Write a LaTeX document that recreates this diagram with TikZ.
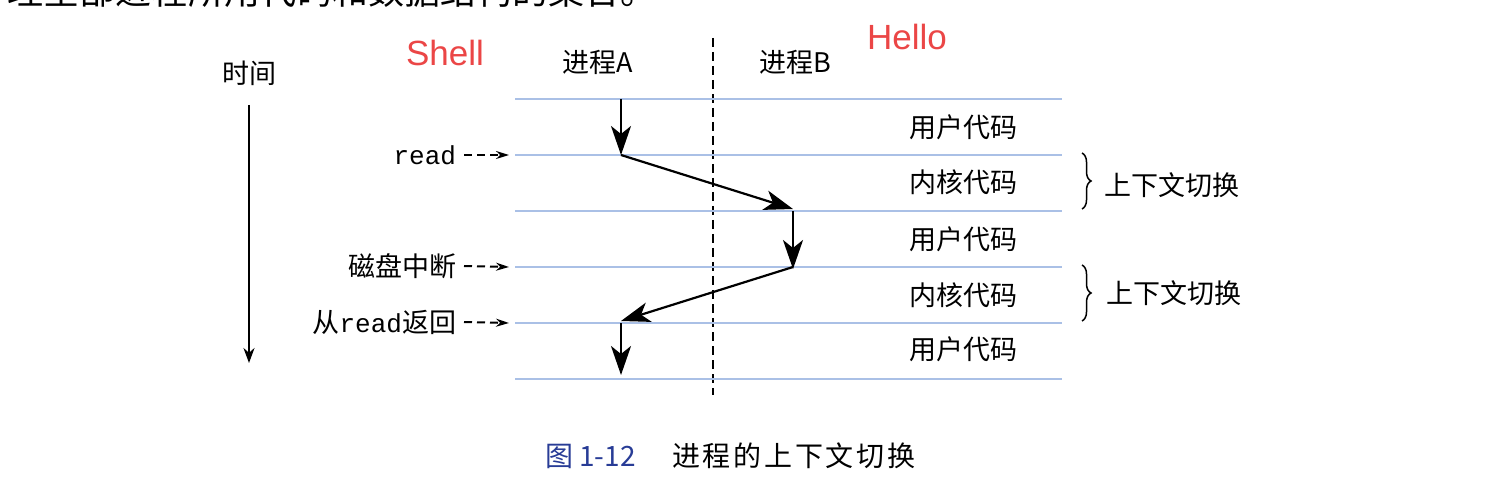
\documentclass[tikz,border=0pt]{standalone}
\usepackage{fontspec}
\usetikzlibrary{arrows.meta, decorations.pathreplacing}
\newfontfamily\cjk{Noto Sans CJK SC}
\newfontfamily\cjkwide[LetterSpace=10]{Noto Sans CJK SC}
\newfontfamily\mono{Liberation Mono}
\newfontfamily\arial{Liberation Sans}
\definecolor{rowline}{RGB}{170,192,230}
\definecolor{redlabel}{RGB}{235,70,70}
\definecolor{figblue}{RGB}{40,60,150}
\newcommand{\unitpx}{1pt}

\begin{document}
\begin{tikzpicture}[x=\unitpx, y=-\unitpx]
\useasboundingbox (0,0) rectangle (1504,486);
\tikzstyle{every node}=[inner sep=0pt, outer sep=0pt]
\tikzstyle{cjktext}=[font=\cjk\fontsize{27}{27}\selectfont]
\tikzstyle{rowsep}=[draw=rowline, line width=1.1pt]
\tikzstyle{switch}=[-{Stealth[length=29pt, width=20pt, inset=8pt]}, line width=2.2pt]
\tikzstyle{event}=[-{Stealth[length=13pt, width=8pt]}, line width=2pt, dash pattern=on 8pt off 5pt]
\tikzstyle{bracket}=[decorate, decoration={brace, amplitude=9pt}, line width=1.5pt]

% cut-off line of the page above
\node[anchor=west, font=\cjk\fontsize{36}{36}\selectfont] (above) at (8,-9) {理全部进程所用代码和数据结构的集合。};

% time axis
\node[cjktext] (time) at (249,73) {时间};
\coordinate (t0) at (249,105);
\coordinate (t1) at (249,363);
\draw[-{Stealth[length=15pt, width=11pt]}, line width=2.2pt] (t0) -- (t1);

% process headers
\node[font=\arial\fontsize{35}{35}\selectfont, text=redlabel] (shell) at (445,53) {Shell};
\node[font=\arial\fontsize{35}{35}\selectfont, text=redlabel] (hello) at (907,37) {Hello};
\node[cjktext] (pA) at (598,62) {进程A};
\node[cjktext] (pB) at (795,62) {进程B};

% separator between processes
\coordinate (s0) at (713,38);
\coordinate (s1) at (713,395);
\draw[line width=2pt, dash pattern=on 9pt off 5pt] (s0) -- (s1);

% row boundaries
\foreach \i/\yy in {0/99, 1/155, 2/211, 3/267, 4/323, 5/379} {
  \coordinate (l\i) at (515,\yy);
  \coordinate (r\i) at (1062,\yy);
  \draw[rowsep] (l\i) -- (r\i);
}

% row labels
\node[cjktext] (u1) at (963,127) {用户代码};
\node[cjktext] (k1) at (963,182) {内核代码};
\node[cjktext] (u2) at (963,239) {用户代码};
\node[cjktext] (k2) at (963,295) {内核代码};
\node[cjktext] (u3) at (963,349) {用户代码};

% execution flow
\coordinate (a0) at (621,99);
\coordinate (a1) at (621,155);
\coordinate (b1) at (793,209);
\coordinate (b2) at (793,211);
\coordinate (b3) at (793,267);
\coordinate (a3) at (621,321);
\coordinate (a4) at (621,323);
\coordinate (a5) at (621,375);
\draw[switch] (a0) -- (a1);
\draw[switch] (a1) -- (b1);
\draw[switch] (b2) -- ([yshift=-2pt]b3);
\draw[switch] (b3) -- (a3);
\draw[switch] (a4) -- (a5);

% events
\node[font=\mono\fontsize{26}{26}\selectfont, anchor=east] (ev1) at (456,155) {read};
\node[cjktext, anchor=east] (ev2) at (456,266) {磁盘中断};
\node[cjktext, anchor=east] (ev3) at (456,322) {从{\mono\fontsize{26}{26}\selectfont read}返回};
\coordinate (e1) at (509,155);
\coordinate (e2) at (509,267);
\coordinate (e3) at (509,323);
\draw[event] ([xshift=8pt]ev1.east) -- (e1);
\draw[event] ([xshift=8pt]ev2.east) -- (e2);
\draw[event] ([xshift=8pt]ev3.east) -- (e3);

% context switches
\coordinate (c0) at (1082,153);
\coordinate (c1) at (1082,209);
\coordinate (c2) at (1082,265);
\coordinate (c3) at (1082,321);
\draw[bracket] (c0) -- (c1);
\draw[bracket] (c2) -- (c3);
\node[cjktext, anchor=west] (cs1) at (1104,185) {上下文切换};
\node[cjktext, anchor=west] (cs2) at (1106,293) {上下文切换};

% caption
\node[font=\cjk\fontsize{28}{28}\selectfont, text=figblue, anchor=west] (fig) at (545,456) {图 1-12};
\node[font=\cjkwide\fontsize{28}{28}\selectfont, anchor=west] (cap) at (672,456) {进程的上下文切换};
\end{tikzpicture}
\end{document}
